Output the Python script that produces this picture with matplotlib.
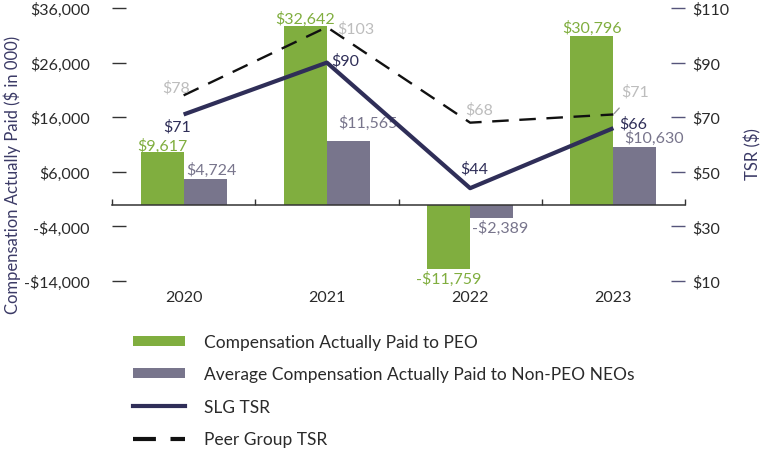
import matplotlib
matplotlib.use("Agg")
import matplotlib.pyplot as plt
from matplotlib.patches import Patch
from matplotlib.lines import Line2D

plt.rcParams['font.family'] = ['Lato', 'DejaVu Sans']

# data
years = ["2020", "2021", "2022", "2023"]
cap_peo = [9617, 32642, -11759, 30796]
cap_neo = [4724, 11565, -2389, 10630]
slg_tsr = [71, 90, 44, 66]
peer_tsr = [78, 103, 68, 71]

left_ticks = [-14000, -4000, 6000, 16000, 26000, 36000]
right_ticks = [10, 30, 50, 70, 90, 110]

GREEN = "#80AE3F"
GREY = "#78758C"
NAVY = "#2F2E58"
LIGHT = "#BDBDBD"
TXT = "#2a2a2a"
FS = 11.5
FS_BIG = 12.5

# label offsets (points) -- hand tuned
off_peo = [(0, 5), (0, 6), (0, -7), (0, 6.5)]
off_neo = [(4.5, 6.5), (14, 13.5), (6, -7), (14, 6.5)]
off_slg = [(-4.5, -8.5), (13, 2), (3, 14.5), (14.5, 3.5)]
off_peer = [(-5.5, 5.5), (21, -0.5), (6.5, 10), (15.5, 17)]

fig = plt.figure(figsize=(7.65, 4.52), dpi=100)
ax = fig.add_axes([112/765, 1-282/452, 573/765, 273/452])
ax2 = ax.twinx()

x = list(range(len(years)))
w = 0.3
ax.bar([i - w/2 for i in x], cap_peo, width=w, color=GREEN, zorder=2)
ax.bar([i + w/2 for i in x], cap_neo, width=w, color=GREY, zorder=2)

ax.set_xlim(-0.5, len(years) - 0.5)
ax.set_ylim(-14000, 36000)
ax2.set_ylim(10, 110)

ax2.plot(x, peer_tsr, color="#111111", lw=1.7, linestyle=(0, (7, 4.5)), zorder=3)
ax2.plot(x, slg_tsr, color=NAVY, lw=3, solid_capstyle='butt', zorder=4)

for a in (ax, ax2):
    for s in a.spines.values():
        s.set_visible(False)
ax.spines['bottom'].set_visible(True)
ax.spines['bottom'].set_position(('data', 0))
ax.spines['bottom'].set_color("#333333")
ax.spines['bottom'].set_linewidth(1.1)

ax.set_xticks([i - 0.5 for i in range(len(years) + 1)])
ax.set_xticklabels([])
ax.tick_params(axis='x', direction='in', length=4.5, width=1, color="#333333")

ax.set_yticks(left_ticks)
ax.set_yticklabels([f"${v:,}" if v >= 0 else f"-${-v:,}" for v in left_ticks])
ax.tick_params(axis='y', direction='in', length=10, width=1, color="#333333",
               pad=16, labelsize=FS, labelcolor=TXT)
ax2.set_yticks(right_ticks)
ax2.set_yticklabels([f"${v}" for v in right_ticks])
ax2.tick_params(axis='y', direction='in', length=10, width=1, color="#55547a",
                pad=5, labelsize=FS, labelcolor=TXT)

for i, yr in enumerate(years):
    ax.text(i, -0.058, yr, transform=ax.get_xaxis_transform(), ha='center',
            va='center', fontsize=FS, color=TXT)

fig.text(12/765, 1-175/452, "Compensation Actually Paid ($ in 000)", rotation=90,
         ha='center', va='center', fontsize=12, color="#3b3a66")
fig.text(753/765, 1-154/452, "TSR ($)", rotation=90, ha='center', va='center',
         fontsize=12, color="#3b3a66")

def money(v):
    return f"${v:,}" if v >= 0 else f"-${-v:,}"

for i in x:
    ax.annotate(money(cap_peo[i]), (i - w/2, cap_peo[i]), xytext=off_peo[i],
                textcoords='offset points', ha='center', va='center',
                fontsize=FS, color=GREEN)
    ax.annotate(money(cap_neo[i]), (i + w/2, cap_neo[i]), xytext=off_neo[i],
                textcoords='offset points', ha='center', va='center',
                fontsize=FS, color=GREY)
    ax2.annotate(f"${slg_tsr[i]}", (i, slg_tsr[i]), xytext=off_slg[i],
                 textcoords='offset points', ha='center', va='center',
                 fontsize=FS, color=NAVY, zorder=5)
    arrow = dict(arrowstyle='-', color="#999999", lw=1, shrinkA=7, shrinkB=1) if i == 3 else None
    ax2.annotate(f"${peer_tsr[i]}", (i, peer_tsr[i]), xytext=off_peer[i],
                 textcoords='offset points', ha='center', va='center',
                 fontsize=FS, color=LIGHT, arrowprops=arrow, zorder=5)

handles = [
    Patch(facecolor=GREEN),
    Patch(facecolor=GREY),
    Line2D([], [], color=NAVY, lw=3),
    Line2D([], [], color="#111111", lw=3, linestyle=(0, (5.5, 3.5))),
]
labels = ["Compensation Actually Paid to PEO",
          "Average Compensation Actually Paid to Non-PEO NEOs",
          "SLG TSR", "Peer Group TSR"]
leg = fig.legend(handles, labels, loc='upper left', bbox_to_anchor=(133/765, 1-335/452),
                 frameon=False, fontsize=FS_BIG, handlelength=3.0, handleheight=0.5,
                 handletextpad=1.1, labelspacing=0.95, borderpad=0, borderaxespad=0)
for t in leg.get_texts():
    t.set_color(TXT)

fig.savefig("out.png", dpi=100)
